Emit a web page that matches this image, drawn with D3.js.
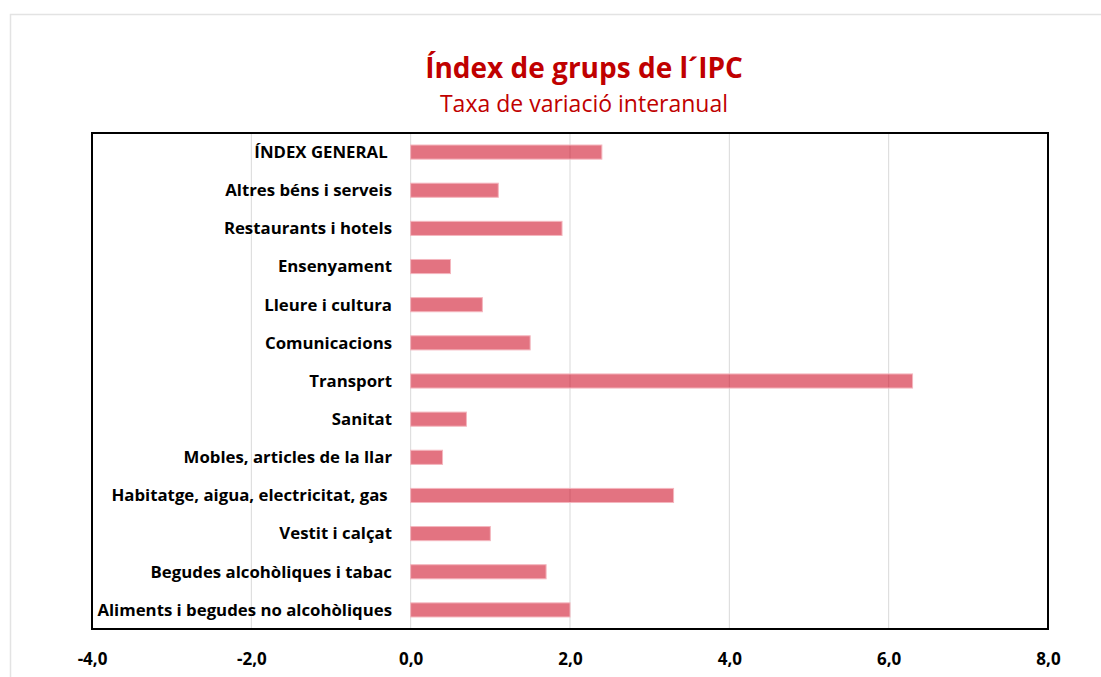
<!DOCTYPE html>
<html>
<head>
<meta charset="utf-8">
<script src="https://cdn.jsdelivr.net/npm/d3@7"></script>
<style>
  body { margin: 0; background: #fff; }
  svg text { font-family: "Open Sans", sans-serif; }
</style>
</head>
<body>
<div id="chart"></div>
<script>
// IPC groups, year-on-year change (%)
const categories = [
  "ÍNDEX GENERAL ",
  "Altres béns i serveis",
  "Restaurants i hotels",
  "Ensenyament",
  "Lleure i cultura",
  "Comunicacions",
  "Transport",
  "Sanitat",
  "Mobles, articles de la llar",
  "Habitatge, aigua, electricitat, gas ",
  "Vestit i calçat",
  "Begudes alcohòliques i tabac",
  "Aliments i begudes no alcohòliques"
];
const values = [2.4, 1.1, 1.9, 0.5, 0.9, 1.5, 6.3, 0.7, 0.4, 3.3, 1.0, 1.7, 2.0];
const xTicks = [-4, -2, 0, 2, 4, 6, 8];

const width = 1101, height = 677;
const plot = {left: 92, right: 1048, top: 133, bottom: 629};
const red = "#c00000";

const svg = d3.select("#chart").append("svg")
  .attr("width", width)
  .attr("height", height);

// outer chart frame
svg.append("path")
  .attr("d", `M10.5,${height} V14.5 H${width}`)
  .attr("fill", "none")
  .attr("stroke", "#e3e3e3")
  .attr("stroke-width", 1.5);

svg.append("text")
  .attr("x", 584).attr("y", 78)
  .attr("text-anchor", "middle")
  .attr("fill", red)
  .attr("font-weight", "bold")
  .attr("font-size", 28)
  .text("Índex de grups de l´IPC");

svg.append("text")
  .attr("x", 584).attr("y", 112)
  .attr("text-anchor", "middle")
  .attr("fill", red)
  .attr("font-size", 23)
  .text("Taxa de variació interanual");

const x = d3.scaleLinear()
  .domain([-4, 8])
  .range([plot.left, plot.right]);

const y = d3.scaleBand()
  .domain(categories)
  .range([plot.top, plot.bottom])
  .paddingInner(0.63)
  .paddingOuter(0.315);

// grid lines
svg.append("g")
  .selectAll("line")
  .data(xTicks)
  .join("line")
    .attr("x1", d => x(d)).attr("x2", d => x(d))
    .attr("y1", plot.top).attr("y2", plot.bottom)
    .attr("stroke", "#d9d9d9")
    .attr("stroke-width", 1);

// bars
svg.append("g")
  .selectAll("rect")
  .data(values)
  .join("rect")
    .attr("x", d => x(Math.min(0, d)))
    .attr("y", (d, i) => y(categories[i]))
    .attr("width", d => Math.abs(x(d) - x(0)))
    .attr("height", y.bandwidth())
    .attr("fill", "rgb(204,0,26)")
    .attr("fill-opacity", 0.55)
    .attr("stroke", "#f4b6be")
    .attr("stroke-width", 1);

// category labels
svg.append("g")
  .selectAll("text")
  .data(categories)
  .join("text")
    .attr("x", 392)
    .attr("y", d => y(d) + y.bandwidth() / 2)
    .attr("dy", "0.35em")
    .attr("text-anchor", "end")
    .attr("font-weight", "bold")
    .attr("font-size", 16.8)
    .attr("fill", "#000")
    .style("white-space", "pre")
    .text(d => d);

// plot frame
svg.append("rect")
  .attr("x", plot.left).attr("y", plot.top)
  .attr("width", plot.right - plot.left)
  .attr("height", plot.bottom - plot.top)
  .attr("fill", "none")
  .attr("stroke", "#000")
  .attr("stroke-width", 2);

// x axis labels
const fmt = d => d3.format(".1f")(d).replace(".", ",").replace("−", "-");
const xAxis = d3.axisBottom(x)
  .tickValues(xTicks)
  .tickFormat(fmt)
  .tickSize(0)
  .tickPadding(24);

svg.append("g")
  .attr("transform", `translate(0,${plot.bottom})`)
  .call(xAxis)
  .call(g => g.select(".domain").remove())
  .call(g => g.selectAll("text")
    .attr("font-family", null)
    .attr("font-size", 17)
    .attr("font-weight", "bold")
    .attr("fill", "#000"));
</script>
</body>
</html>
